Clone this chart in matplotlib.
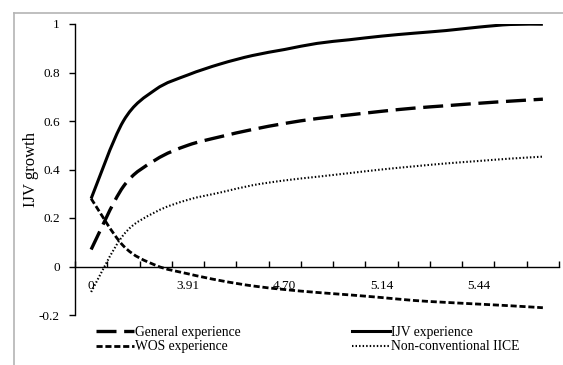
import matplotlib
matplotlib.use("Agg")
import matplotlib.pyplot as plt
from matplotlib.lines import Line2D
from matplotlib.path import Path
from matplotlib.patches import PathPatch
import numpy as np

plt.rcParams['font.family'] = ['Liberation Serif', 'DejaVu Serif']

categories = ["0", "2.30", "3.40", "3.91", "4.25", "4.50", "4.70", "4.87",
              "5.01", "5.14", "5.25", "5.35", "5.44", "5.52", "5.60"]
shown_labels = ["0", "3.91", "4.70", "5.14", "5.44"]

general = [0.07, 0.33, 0.44, 0.50, 0.535, 0.565, 0.59, 0.61, 0.625, 0.64,
           0.653, 0.663, 0.673, 0.682, 0.69]
ijv = [0.28, 0.60, 0.73, 0.79, 0.835, 0.87, 0.895, 0.92, 0.935, 0.95,
       0.962, 0.973, 0.987, 0.998, 0.999]
wos = [0.28, 0.085, 0.005, -0.03, -0.058, -0.08, -0.095, -0.107, -0.117,
       -0.128, -0.14, -0.148, -0.155, -0.162, -0.17]
nonconv = [-0.105, 0.13, 0.225, 0.275, 0.305, 0.335, 0.355, 0.37, 0.385,
           0.40, 0.413, 0.425, 0.435, 0.445, 0.453]

W, H = 563, 365
fig = plt.figure(figsize=(W / 100, H / 100), dpi=100)
ax = fig.add_axes([75 / W, 1 - 315 / H, (559 - 75) / W, (315 - 24) / H])


def smooth_path(xs, ys, t=1 / 6):
    """Excel-like smoothed line: cubic Bezier segments through the points."""
    p = np.column_stack([xs, ys]).astype(float)
    n = len(p)
    verts = [p[0]]
    codes = [Path.MOVETO]
    for i in range(n - 1):
        p0 = p[i - 1] if i > 0 else p[i]
        p1, p2 = p[i], p[i + 1]
        p3 = p[i + 2] if i + 2 < n else p[i + 1]
        c1 = p1 + (p2 - p0) * t
        c2 = p2 - (p3 - p1) * t
        verts += [c1, c2, p2]
        codes += [Path.CURVE4] * 3
    return Path(verts, codes)


x = list(range(len(categories)))
styles = [
    (general, 'General experience', dict(lw=2.4, dashes=(6, 2.3))),
    (wos, 'WOS experience', dict(lw=2.0, dashes=(2.2, 1.0))),
    (ijv, 'IJV experience', dict(lw=2.2)),
    (nonconv, 'Non-conventional IICE', dict(lw=1.5, dashes=(0.7, 1.0))),
]
handles = []
for ys, lab, st in styles:
    ls = (0, st['dashes']) if 'dashes' in st else '-'
    patch = PathPatch(smooth_path(x, ys), facecolor='none', edgecolor='black',
                      lw=st['lw'], linestyle=ls, capstyle='butt')
    ax.add_patch(patch)
    kw = dict(color='black', lw=st['lw'])
    if 'dashes' in st:
        kw['dashes'] = st['dashes']
    handles.append(Line2D([], [], label=lab, **kw))

ax.set_xlim(-0.5, len(categories) - 0.5)
ax.set_ylim(-0.2, 1.0)
ax.set_yticks([-0.2, 0, 0.2, 0.4, 0.6, 0.8, 1.0])
ax.set_yticklabels(["-0.2", "0", "0.2", "0.4", "0.6", "0.8", "1"])
ax.tick_params(axis='y', direction='out', length=4, width=1, labelsize=9.5, pad=7)

ax.spines['top'].set_visible(False)
ax.spines['right'].set_visible(False)
ax.spines['bottom'].set_position(('data', 0))
ax.spines['left'].set_linewidth(1)
ax.spines['bottom'].set_linewidth(1)

bounds = [i - 0.5 for i in range(len(categories) + 1)]
ax.set_xticks(bounds)
ax.set_xticklabels([''] * len(bounds))
ax.tick_params(axis='x', which='major', direction='in', length=4, width=1)
lab_pos = [categories.index(l) for l in shown_labels]
ax.set_xticks(lab_pos, minor=True)
ax.set_xticklabels(shown_labels, minor=True)
ax.tick_params(axis='x', which='minor', length=0, labelsize=9.5, pad=10)

ax.set_ylabel('IJV growth', fontsize=12)
ax.yaxis.set_label_coords((39 - 75) / 484, 0.5)

fig.legend(handles=handles, ncol=2, loc='upper left',
           bbox_to_anchor=(96 / W, 1 - 326 / H), frameon=False, fontsize=9.8,
           handlelength=2.8, handletextpad=0.05, columnspacing=8.2,
           labelspacing=0.1, borderaxespad=0, borderpad=0)

# figure frame
fig.add_artist(Line2D([14 / W, 1], [1 - 13 / H, 1 - 13 / H], color='#b4b4b4', lw=1.2,
                      transform=fig.transFigure))
fig.add_artist(Line2D([14 / W, 14 / W], [1 - 13 / H, 0], color='#b4b4b4', lw=1.2,
                      transform=fig.transFigure))

fig.savefig('out.png', dpi=100)
